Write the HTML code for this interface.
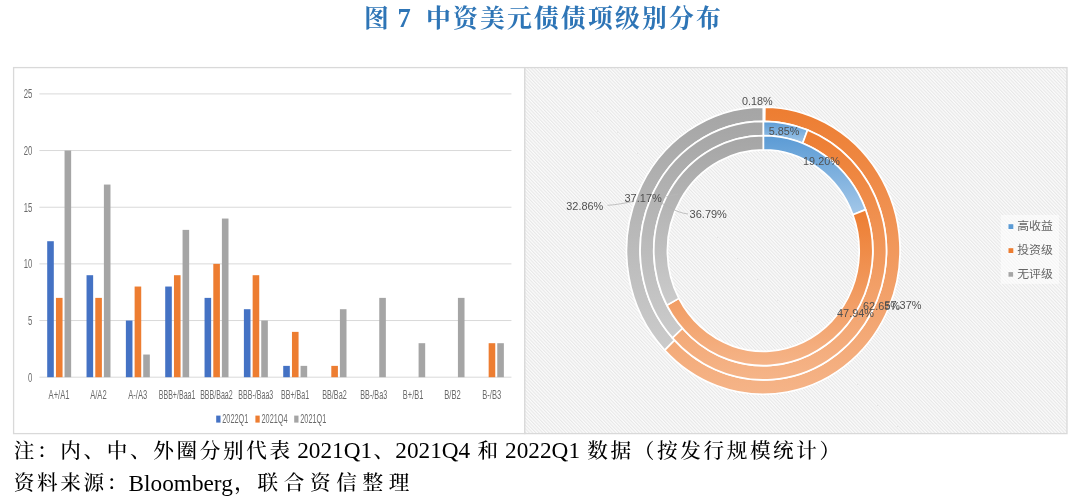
<!DOCTYPE html>
<html lang="zh-CN"><head><meta charset="utf-8"><title>图 7 中资美元债债项级别分布</title>
<style>html,body{margin:0;padding:0;background:#fff}body{width:1080px;height:502px;overflow:hidden;position:relative}svg{position:absolute;left:0;top:0;display:block}.ser{font-family:"Liberation Serif","Noto Serif CJK SC",serif}.san{font-family:"Liberation Sans","Noto Sans CJK SC",sans-serif}</style></head><body>
<svg width="1080" height="502" viewBox="0 0 1080 502">
<defs>
<pattern id="hatch" patternUnits="userSpaceOnUse" width="2.35" height="2.35" patternTransform="scale(1 1.05) rotate(-45)"><rect width="2.35" height="2.35" fill="#fbfbfb"/><rect width="1.08" height="2.35" fill="#e7e7e7"/></pattern>
<linearGradient id="gO" x1="0" y1="0" x2="0" y2="1"><stop offset="0" stop-color="#ED7D31"/><stop offset="1" stop-color="#F5B488"/></linearGradient>
<linearGradient id="gG" x1="0" y1="0" x2="0" y2="1"><stop offset="0" stop-color="#A5A5A5"/><stop offset="1" stop-color="#CBCBCB"/></linearGradient>
<linearGradient id="gB" x1="0" y1="0" x2="0" y2="1"><stop offset="0" stop-color="#5B9BD5"/><stop offset="1" stop-color="#A3C7E8"/></linearGradient>
</defs>
<rect width="1080" height="502" fill="#fff"/>
<text class="ser" font-weight="700" fill="#2E75B6" text-anchor="middle"><tspan x="379.4" y="26.9" font-size="24.8">图 </tspan><tspan x="407.5" y="26.7" font-size="26.6" font-weight="700">7 </tspan><tspan x="438.3 465.3 492.3 519.3 546.3 573.3 600.3 627.3 654.3 681.3 708.3" y="26.9" font-size="24.8">中资美元债债项级别分布</tspan></text>
<rect x="13.6" y="67.6" width="511.19999999999993" height="366.0" fill="#fff" stroke="#d9d9d9" stroke-width="1.3"/>
<rect x="524.8" y="67.6" width="542.2" height="366.0" fill="url(#hatch)" stroke="#d9d9d9" stroke-width="1.3"/>
<line x1="39.4" y1="377.20" x2="511.45" y2="377.20" stroke="#d9d9d9" stroke-width="1"/>
<text class="san" x="32.3" y="381.50" font-size="12.3" fill="#6a6a6a" text-anchor="end" textLength="4.3" lengthAdjust="spacingAndGlyphs">0</text>
<line x1="39.4" y1="320.54" x2="511.45" y2="320.54" stroke="#d9d9d9" stroke-width="1"/>
<text class="san" x="32.3" y="324.84" font-size="12.3" fill="#6a6a6a" text-anchor="end" textLength="4.3" lengthAdjust="spacingAndGlyphs">5</text>
<line x1="39.4" y1="263.88" x2="511.45" y2="263.88" stroke="#d9d9d9" stroke-width="1"/>
<text class="san" x="32.3" y="268.18" font-size="12.3" fill="#6a6a6a" text-anchor="end" textLength="8.6" lengthAdjust="spacingAndGlyphs">10</text>
<line x1="39.4" y1="207.22" x2="511.45" y2="207.22" stroke="#d9d9d9" stroke-width="1"/>
<text class="san" x="32.3" y="211.52" font-size="12.3" fill="#6a6a6a" text-anchor="end" textLength="8.6" lengthAdjust="spacingAndGlyphs">15</text>
<line x1="39.4" y1="150.56" x2="511.45" y2="150.56" stroke="#d9d9d9" stroke-width="1"/>
<text class="san" x="32.3" y="154.86" font-size="12.3" fill="#6a6a6a" text-anchor="end" textLength="8.6" lengthAdjust="spacingAndGlyphs">20</text>
<line x1="39.4" y1="93.90" x2="511.45" y2="93.90" stroke="#d9d9d9" stroke-width="1"/>
<text class="san" x="32.3" y="98.20" font-size="12.3" fill="#6a6a6a" text-anchor="end" textLength="8.6" lengthAdjust="spacingAndGlyphs">25</text>
<rect x="47.20" y="241.22" width="6.6" height="135.98" fill="#4472C4"/>
<rect x="55.95" y="297.88" width="6.6" height="79.32" fill="#ED7D31"/>
<rect x="64.55" y="150.56" width="6.6" height="226.64" fill="#A5A5A5"/>
<text class="san" x="59.07" y="399.2" font-size="12.2" fill="#6a6a6a" text-anchor="middle" textLength="20.9" lengthAdjust="spacingAndGlyphs">A+/A1</text>
<rect x="86.54" y="275.21" width="6.6" height="101.99" fill="#4472C4"/>
<rect x="95.29" y="297.88" width="6.6" height="79.32" fill="#ED7D31"/>
<rect x="103.89" y="184.56" width="6.6" height="192.64" fill="#A5A5A5"/>
<text class="san" x="98.41" y="399.2" font-size="12.2" fill="#6a6a6a" text-anchor="middle" textLength="16.5" lengthAdjust="spacingAndGlyphs">A/A2</text>
<rect x="125.87" y="320.54" width="6.6" height="56.66" fill="#4472C4"/>
<rect x="134.62" y="286.54" width="6.6" height="90.66" fill="#ED7D31"/>
<rect x="143.22" y="354.54" width="6.6" height="22.66" fill="#A5A5A5"/>
<text class="san" x="137.74" y="399.2" font-size="12.2" fill="#6a6a6a" text-anchor="middle" textLength="19.0" lengthAdjust="spacingAndGlyphs">A-/A3</text>
<rect x="165.21" y="286.54" width="6.6" height="90.66" fill="#4472C4"/>
<rect x="173.96" y="275.21" width="6.6" height="101.99" fill="#ED7D31"/>
<rect x="182.56" y="229.88" width="6.6" height="147.32" fill="#A5A5A5"/>
<text class="san" x="177.08" y="399.2" font-size="12.2" fill="#6a6a6a" text-anchor="middle" textLength="36.7" lengthAdjust="spacingAndGlyphs">BBB+/Baa1</text>
<rect x="204.55" y="297.88" width="6.6" height="79.32" fill="#4472C4"/>
<rect x="213.30" y="263.88" width="6.6" height="113.32" fill="#ED7D31"/>
<rect x="221.90" y="218.55" width="6.6" height="158.65" fill="#A5A5A5"/>
<text class="san" x="216.42" y="399.2" font-size="12.2" fill="#6a6a6a" text-anchor="middle" textLength="32.5" lengthAdjust="spacingAndGlyphs">BBB/Baa2</text>
<rect x="243.89" y="309.21" width="6.6" height="67.99" fill="#4472C4"/>
<rect x="252.64" y="275.21" width="6.6" height="101.99" fill="#ED7D31"/>
<rect x="261.24" y="320.54" width="6.6" height="56.66" fill="#A5A5A5"/>
<text class="san" x="255.76" y="399.2" font-size="12.2" fill="#6a6a6a" text-anchor="middle" textLength="35.0" lengthAdjust="spacingAndGlyphs">BBB-/Baa3</text>
<rect x="283.22" y="365.87" width="6.6" height="11.33" fill="#4472C4"/>
<rect x="291.97" y="331.87" width="6.6" height="45.33" fill="#ED7D31"/>
<rect x="300.57" y="365.87" width="6.6" height="11.33" fill="#A5A5A5"/>
<text class="san" x="295.09" y="399.2" font-size="12.2" fill="#6a6a6a" text-anchor="middle" textLength="28.0" lengthAdjust="spacingAndGlyphs">BB+/Ba1</text>
<rect x="331.31" y="365.87" width="6.6" height="11.33" fill="#ED7D31"/>
<rect x="339.91" y="309.21" width="6.6" height="67.99" fill="#A5A5A5"/>
<text class="san" x="334.43" y="399.2" font-size="12.2" fill="#6a6a6a" text-anchor="middle" textLength="24.5" lengthAdjust="spacingAndGlyphs">BB/Ba2</text>
<rect x="379.25" y="297.88" width="6.6" height="79.32" fill="#A5A5A5"/>
<text class="san" x="373.77" y="399.2" font-size="12.2" fill="#6a6a6a" text-anchor="middle" textLength="27.0" lengthAdjust="spacingAndGlyphs">BB-/Ba3</text>
<rect x="418.59" y="343.20" width="6.6" height="34.00" fill="#A5A5A5"/>
<text class="san" x="413.11" y="399.2" font-size="12.2" fill="#6a6a6a" text-anchor="middle" textLength="20.5" lengthAdjust="spacingAndGlyphs">B+/B1</text>
<rect x="457.92" y="297.88" width="6.6" height="79.32" fill="#A5A5A5"/>
<text class="san" x="452.44" y="399.2" font-size="12.2" fill="#6a6a6a" text-anchor="middle" textLength="16.5" lengthAdjust="spacingAndGlyphs">B/B2</text>
<rect x="488.66" y="343.20" width="6.6" height="34.00" fill="#ED7D31"/>
<rect x="497.26" y="343.20" width="6.6" height="34.00" fill="#A5A5A5"/>
<text class="san" x="491.78" y="399.2" font-size="12.2" fill="#6a6a6a" text-anchor="middle" textLength="19.0" lengthAdjust="spacingAndGlyphs">B-/B3</text>
<rect x="216.2" y="415.6" width="4.3" height="7" fill="#4472C4"/>
<text class="san" x="222.3" y="423.2" font-size="12.4" fill="#6a6a6a" textLength="26.0" lengthAdjust="spacingAndGlyphs">2022Q1</text>
<rect x="255.4" y="415.6" width="4.3" height="7" fill="#ED7D31"/>
<text class="san" x="261.5" y="423.2" font-size="12.4" fill="#6a6a6a" textLength="26.0" lengthAdjust="spacingAndGlyphs">2021Q4</text>
<rect x="294.2" y="415.6" width="4.3" height="7" fill="#A5A5A5"/>
<text class="san" x="300.3" y="423.2" font-size="12.4" fill="#6a6a6a" textLength="26.0" lengthAdjust="spacingAndGlyphs">2021Q1</text>
<path d="M763.30 107.05A136.76 143.6 0 0 1 764.85 107.06L764.69 121.36A123.15 129.3 0 0 0 763.30 121.35Z" fill="url(#gB)" stroke="#fff" stroke-width="1.7" stroke-linejoin="round"/>
<path d="M764.85 107.06A136.76 143.6 0 1 1 664.61 350.06L674.44 340.16A123.15 129.3 0 1 0 764.69 121.36Z" fill="url(#gO)" stroke="#fff" stroke-width="1.7" stroke-linejoin="round"/>
<path d="M664.61 350.06A136.76 143.6 0 0 1 763.30 107.05L763.30 121.35A123.15 129.3 0 0 0 674.44 340.16Z" fill="url(#gG)" stroke="#fff" stroke-width="1.7" stroke-linejoin="round"/>
<path d="M763.30 121.35A123.15 129.3 0 0 1 807.55 129.98L802.65 143.33A109.53 115.0 0 0 0 763.30 135.65Z" fill="url(#gB)" stroke="#fff" stroke-width="1.7" stroke-linejoin="round"/>
<path d="M807.55 129.98A123.15 129.3 0 1 1 672.41 337.89L682.46 328.24A109.53 115.0 0 1 0 802.65 143.33Z" fill="url(#gO)" stroke="#fff" stroke-width="1.7" stroke-linejoin="round"/>
<path d="M672.41 337.89A123.15 129.3 0 0 1 763.30 121.35L763.30 135.65A109.53 115.0 0 0 0 682.46 328.24Z" fill="url(#gG)" stroke="#fff" stroke-width="1.7" stroke-linejoin="round"/>
<path d="M763.30 135.65A109.53 115.0 0 0 1 865.63 209.66L852.91 214.76A95.91 100.7 0 0 0 763.30 149.95Z" fill="url(#gB)" stroke="#fff" stroke-width="1.7" stroke-linejoin="round"/>
<path d="M865.63 209.66A109.53 115.0 0 0 1 666.86 305.16L678.85 298.38A95.91 100.7 0 0 0 852.91 214.76Z" fill="url(#gO)" stroke="#fff" stroke-width="1.7" stroke-linejoin="round"/>
<path d="M666.86 305.16A109.53 115.0 0 0 1 763.30 135.65L763.30 149.95A95.91 100.7 0 0 0 678.85 298.38Z" fill="url(#gG)" stroke="#fff" stroke-width="1.7" stroke-linejoin="round"/>
<path d="M607.5 205.3C614 204.9 619 204.2 633 201.5" fill="none" stroke="#b2b2b2" stroke-width="0.8"/>
<path d="M688 214C676 212.5 670 207 661 203" fill="none" stroke="#b2b2b2" stroke-width="0.8"/>
<path d="M665.5 197L678 194" fill="none" stroke="#b8b8b8" stroke-width="0.7"/>
<path d="M858.5 320.3L863 315.2" fill="none" stroke="#c8b8aa" stroke-width="0.7"/>
<text class="san" x="741.9" y="105.45" font-size="11" fill="#505050" textLength="30.7" lengthAdjust="spacingAndGlyphs">0.18%</text>
<text class="san" x="768.8" y="134.75" font-size="11" fill="#505050" textLength="30.7" lengthAdjust="spacingAndGlyphs">5.85%</text>
<text class="san" x="803.1" y="165.45" font-size="11" fill="#505050" textLength="36.7" lengthAdjust="spacingAndGlyphs">19.20%</text>
<text class="san" x="624.5" y="202.25" font-size="11" fill="#505050" textLength="37.3" lengthAdjust="spacingAndGlyphs">37.17%</text>
<text class="san" x="689.6" y="218.35" font-size="11" fill="#505050" textLength="37.3" lengthAdjust="spacingAndGlyphs">36.79%</text>
<text class="san" x="566.3" y="210.05" font-size="11" fill="#505050" textLength="37.0" lengthAdjust="spacingAndGlyphs">32.86%</text>
<text class="san" x="837.0" y="317.35" font-size="11" fill="#505050" textLength="37.1" lengthAdjust="spacingAndGlyphs">47.94%</text>
<text class="san" x="863.0" y="309.95" font-size="11" fill="#505050" textLength="37.0" lengthAdjust="spacingAndGlyphs">62.65%</text>
<text class="san" x="884.4" y="309.05" font-size="11" fill="#505050" textLength="37.1" lengthAdjust="spacingAndGlyphs">57.37%</text>
<rect x="1000.8" y="214.9" width="58.2" height="69" fill="#fff" fill-opacity="0.55"/>
<rect x="1008.5" y="224.20" width="4.8" height="4.8" fill="#5B9BD5"/>
<text class="san" x="1017.2" y="230.30" font-size="11.9" fill="#666">高收益</text>
<rect x="1008.5" y="248.20" width="4.8" height="4.8" fill="#ED7D31"/>
<text class="san" x="1017.2" y="254.30" font-size="11.9" fill="#666">投资级</text>
<rect x="1008.5" y="272.10" width="4.6" height="4.6" fill="#A5A5A5"/>
<text class="san" x="1017.2" y="278.10" font-size="11.9" fill="#666">无评级</text>
<text class="ser" x="12.4" y="458.2" font-size="23.25" fill="#000"><tspan font-size="20.6" font-weight="500" letter-spacing="2.65" dy="-0.5" dx="1.32">注：内、中、外圈分别代表</tspan><tspan dy="0.5" dx="-1.32"> 2021Q1</tspan><tspan font-size="20.6" font-weight="500" letter-spacing="2.65" dy="-0.5" dx="1.32">、</tspan><tspan dy="0.5" dx="-1.32">2021Q4 </tspan><tspan font-size="20.6" font-weight="500" letter-spacing="2.65" dy="-0.5" dx="1.32">和</tspan><tspan dy="0.5" dx="-1.32"> 2022Q1 </tspan><tspan font-size="20.6" font-weight="500" letter-spacing="2.65" dy="-0.5" dx="1.32">数据（按发行规模统计）</tspan></text>
<text class="ser" x="12.4" y="490.6" font-size="23.25" fill="#000"><tspan font-size="20.6" font-weight="500" letter-spacing="2.65" dy="-0.5" dx="1.32">资料来源：</tspan><tspan dy="0.5" dx="-1.32">Bloomberg</tspan><tspan font-size="20.6" font-weight="500" letter-spacing="2.65" dy="-0.5" dx="1.32">，</tspan><tspan font-size="20.6" font-weight="500" letter-spacing="5.70">联合资信整理</tspan></text>
</svg></body></html>
